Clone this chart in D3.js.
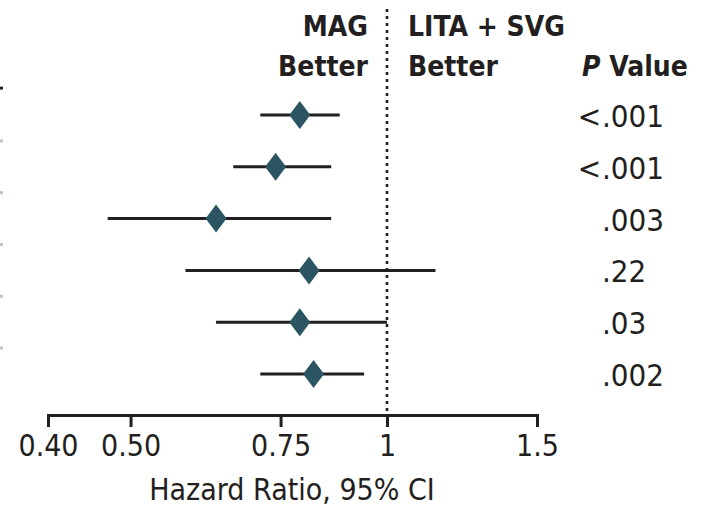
<!DOCTYPE html>
<html>
<head>
<meta charset="utf-8">
<script src="https://cdn.jsdelivr.net/npm/d3@7"></script>
<style>
  body { margin: 0; background: #fff; }
  svg { display: block; }
  text { font-family: "Liberation Sans Narrow", "DejaVu Sans Condensed", sans-serif; fill: #231f20; }
</style>
</head>
<body>
<svg id="chart"></svg>
<script>
// values
const rowIds = [1, 2, 3, 4, 5, 6];
const hazardRatio = [0.79, 0.74, 0.63, 0.81, 0.79, 0.82];
const ciLower = [0.71, 0.66, 0.47, 0.58, 0.63, 0.71];
const ciUpper = [0.88, 0.86, 0.86, 1.14, 1.00, 0.94];
const pValues = ['<.001', '<.001', '.003', '.22', '.03', '.002'];
const tickValues = [0.40, 0.50, 0.75, 1, 1.5];
const tickLabels = ['0.40', '0.50', '0.75', '1', '1.5'];

const width = 702;
const height = 509;
const ink = '#231f20';
const diamondColor = '#2c5563';

const rows = rowIds.map((id, i) => ({
    id,
    hr: hazardRatio[i],
    lo: ciLower[i],
    hi: ciUpper[i],
    p: pValues[i]
}));

const svg = d3.select('#chart')
    .attr('width', width)
    .attr('height', height);

// Scales
const x = d3.scaleLog()
    .domain([0.40, 1.5])
    .range([48, 537]);

const y = d3.scalePoint()
    .domain(rowIds)
    .range([115, 374]);

const step = y.step();

// row separators left over from the table on the left
svg.append('line')
    .attr('x1', 0).attr('x2', 3)
    .attr('y1', y(rowIds[0]) - step / 2 - 1)
    .attr('y2', y(rowIds[0]) - step / 2 - 1)
    .attr('stroke', ink)
    .attr('stroke-width', 3);

svg.selectAll('.sep')
    .data(rowIds.slice(1))
    .enter()
    .append('line')
    .attr('class', 'sep')
    .attr('x1', 0).attr('x2', 3)
    .attr('y1', d => y(d) - step / 2)
    .attr('y2', d => y(d) - step / 2)
    .attr('stroke', '#c6c2b6')
    .attr('stroke-width', 3);

// Reference line at HR = 1
svg.append('line')
    .attr('x1', x(1)).attr('x2', x(1))
    .attr('y1', 9).attr('y2', 411)
    .attr('stroke', ink)
    .attr('stroke-width', 2.6)
    .attr('stroke-dasharray', '3,4');

// Axis
const axis = svg.append('g')
    .attr('transform', 'translate(0,415)')
    .call(d3.axisBottom(x)
        .tickValues(tickValues)
        .tickFormat((d, i) => tickLabels[i])
        .tickSizeOuter(0)
        .tickSize(12)
        .tickPadding(8));

axis.select('.domain')
    .attr('stroke', ink)
    .attr('stroke-width', 3);
axis.selectAll('.tick line')
    .attr('stroke', ink)
    .attr('stroke-width', 3);
axis.selectAll('.tick text')
    .attr('fill', ink)
    .style('font-size', '30px')
    .style('font-family', '"Liberation Sans Narrow", "DejaVu Sans Condensed", sans-serif');

// Axis label
svg.append('text')
    .attr('x', 292)
    .attr('y', 500)
    .attr('text-anchor', 'middle')
    .style('font-size', '30px')
    .text('Hazard Ratio, 95% CI');

// Headers
const header = [
    { text: 'MAG', x: 368, y: 36, anchor: 'end' },
    { text: 'Better', x: 368, y: 76, anchor: 'end' },
    { text: 'LITA + SVG', x: 408, y: 36, anchor: 'start' },
    { text: 'Better', x: 408, y: 76, anchor: 'start' }
];
svg.selectAll('.hdr')
    .data(header)
    .enter()
    .append('text')
    .attr('class', 'hdr')
    .attr('x', d => d.x)
    .attr('y', d => d.y)
    .attr('text-anchor', d => d.anchor)
    .style('font-size', '28px')
    .style('font-weight', 'bold')
    .text(d => d.text);

const pHead = svg.append('text')
    .attr('x', 582)
    .attr('y', 76)
    .style('font-size', '28px')
    .style('font-weight', 'bold');
pHead.append('tspan').style('font-style', 'italic').text('P');
pHead.append('tspan').text(' Value');

// CI lines
svg.selectAll('.ci')
    .data(rows)
    .enter()
    .append('line')
    .attr('class', 'ci')
    .attr('x1', d => x(d.lo))
    .attr('x2', d => x(d.hi))
    .attr('y1', d => y(d.id))
    .attr('y2', d => y(d.id))
    .attr('stroke', ink)
    .attr('stroke-width', 3);

// Diamonds
svg.selectAll('.pt')
    .data(rows)
    .enter()
    .append('path')
    .attr('class', 'pt')
    .attr('transform', d => `translate(${x(d.hr)},${y(d.id)})`)
    .attr('d', 'M0,-14L10.5,0L0,14L-10.5,0Z')
    .attr('fill', diamondColor);

// P values, aligned on the decimal point
const pX = 602;
const pText = svg.selectAll('.pv')
    .data(rows)
    .enter()
    .append('g')
    .attr('class', 'pv')
    .attr('transform', d => `translate(${pX},${y(d.id) + 12})`);

pText.append('text')
    .attr('text-anchor', 'start')
    .style('font-size', '31px')
    .text(d => d.p.replace('<', ''));

pText.filter(d => d.p.startsWith('<'))
    .append('text')
    .attr('text-anchor', 'end')
    .attr('x', -1)
    .style('font-size', '31px')
    .text('<');
</script>
</body>
</html>
